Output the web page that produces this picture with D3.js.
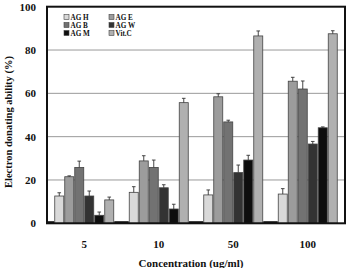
<!DOCTYPE html>
<html><head><meta charset="utf-8">
<script src="https://cdn.jsdelivr.net/npm/d3@7"></script>
<style>body{margin:0;background:#fff}svg{display:block}text{font-family:"Liberation Serif","Times New Roman",serif;font-weight:bold;fill:#111}</style>
</head><body>
<svg id="c" width="347" height="268"></svg>
<script>
const categories = ["5", "10", "50", "100"];
const seriesNames = ["AG H", "AG E", "AG B", "AG W", "AG M", "Vit.C"];
const agH  = [12.6, 14.3, 13.1, 13.5];
const agE  = [21.5, 28.8, 58.4, 65.6];
const agB  = [25.8, 25.8, 46.8, 62.0];
const agW  = [12.6, 16.4, 23.4, 36.6];
const agM  = [3.7, 6.6, 29.2, 44.1];
const vitC = [10.8, 55.7, 86.5, 87.5];
const errH = [1.5, 2.6, 2.3, 2.5];
const errE = [0.4, 2.4, 1.4, 1.8];
const errB = [2.9, 3.4, 0.8, 3.7];
const errW = [2.3, 1.4, 3.5, 1.2];
const errM = [1.5, 2.2, 2.2, 0.4];
const errV = [1.3, 2.0, 2.3, 1.4];
const baseline = [0.6, 0.6, 0.6, 0.6];
const yTicks = [0, 20, 40, 60, 80, 100];
const colors = ["#d9d9d9", "#9c9c9c", "#727272", "#333333", "#0e0e0e", "#b0b0b0"];

const values = [agH, agE, agB, agW, agM, vitC];
const errs = [errH, errE, errB, errW, errM, errV];

const svg = d3.select("#c");
const L = 47, R = 345, T = 6.7, B = 223.3;
const x0 = d3.scaleBand().domain(categories).range([L, R]).paddingInner(0).paddingOuter(0);
const pad = 7.25;
const x1 = d3.scaleBand().domain(seriesNames).range([pad, x0.bandwidth() - pad]).padding(0);
const y = d3.scaleLinear().domain([0, 100]).range([B, T]);

// gridlines
svg.append("g").selectAll("line").data(yTicks.filter(t => t > 0 && t < 100)).join("line")
  .attr("x1", L).attr("x2", R).attr("y1", d => y(d)).attr("y2", d => y(d))
  .attr("stroke", "#999").attr("stroke-width", 1);

// baseline small bars in gaps
svg.append("g").selectAll("rect").data(categories).join("rect")
  .attr("x", (c) => Math.max(L, x0(c) - pad))
  .attr("width", (c) => x0(c) - pad < L ? pad : pad * 2)
  .attr("y", (c, i) => y(baseline[i]) - 0.8)
  .attr("height", (c, i) => B - y(baseline[i]) + 0.8)
  .attr("fill", "#111");

// bars
const gs = svg.append("g").selectAll("g").data(seriesNames).join("g");
gs.each(function(s, si) {
  const g = d3.select(this);
  categories.forEach((c, ci) => {
    const bx = x0(c) + x1(s), bw = x1.bandwidth();
    const v = values[si][ci], e = errs[si][ci];
    g.append("rect").attr("x", bx + 0.5).attr("y", y(v)).attr("width", bw - 1).attr("height", B - y(v))
      .attr("fill", colors[si]).attr("stroke", "#444").attr("stroke-width", 0.8);
    const cx = bx + bw / 2;
    g.append("line").attr("x1", cx).attr("x2", cx).attr("y1", y(v)).attr("y2", y(v + e))
      .attr("stroke", "#333").attr("stroke-width", 0.9);
    g.append("line").attr("x1", cx - 1.8).attr("x2", cx + 1.8).attr("y1", y(v + e)).attr("y2", y(v + e))
      .attr("stroke", "#333").attr("stroke-width", 0.9);
  });
});

// frame
svg.append("rect").attr("x", L).attr("y", T).attr("width", R - L).attr("height", B - T)
  .attr("fill", "none").attr("stroke", "#111").attr("stroke-width", 2);

// y axis labels
const yAxis = d3.axisLeft(y).tickValues(yTicks).tickSize(0).tickPadding(11);
const ya = svg.append("g").attr("transform", `translate(${L},0)`).call(yAxis);
ya.select(".domain").remove();
ya.selectAll("text").attr("font-size", 11).style("font-family", '"Liberation Serif",serif').style("font-weight", "bold").attr("fill", "#111");

// x axis labels
const xAxis = d3.axisBottom(x0).tickSize(0).tickPadding(17);
const xa = svg.append("g").attr("transform", `translate(0,${B})`).call(xAxis);
xa.select(".domain").remove();
xa.selectAll("text").attr("font-size", 11).style("font-family", '"Liberation Serif",serif').style("font-weight", "bold").attr("fill", "#111");

// titles
svg.append("text").attr("transform", `translate(12,122) rotate(-90)`).attr("text-anchor", "middle")
  .attr("font-size", 10.5).text("Electron donating ability (%)");
svg.append("text").attr("x", 191).attr("y", 267).attr("text-anchor", "middle")
  .attr("font-size", 11).text("Concentration (ug/ml)");

// legend
const legCols = [64, 109], legRows = [17, 25, 33];
const lg = svg.append("g").selectAll("g").data(seriesNames).join("g")
  .attr("transform", (d, i) => `translate(${legCols[i % 2]},${legRows[Math.floor(i / 2)]})`);
lg.append("rect").attr("x", 0).attr("y", -2.5).attr("width", 5).attr("height", 5)
  .attr("fill", (d, i) => colors[i]).attr("stroke", "#444").attr("stroke-width", 0.6);
lg.append("text").attr("x", 6.5).attr("y", 2.6).attr("font-size", 7.2).text(d => d);
</script>
</body></html>
